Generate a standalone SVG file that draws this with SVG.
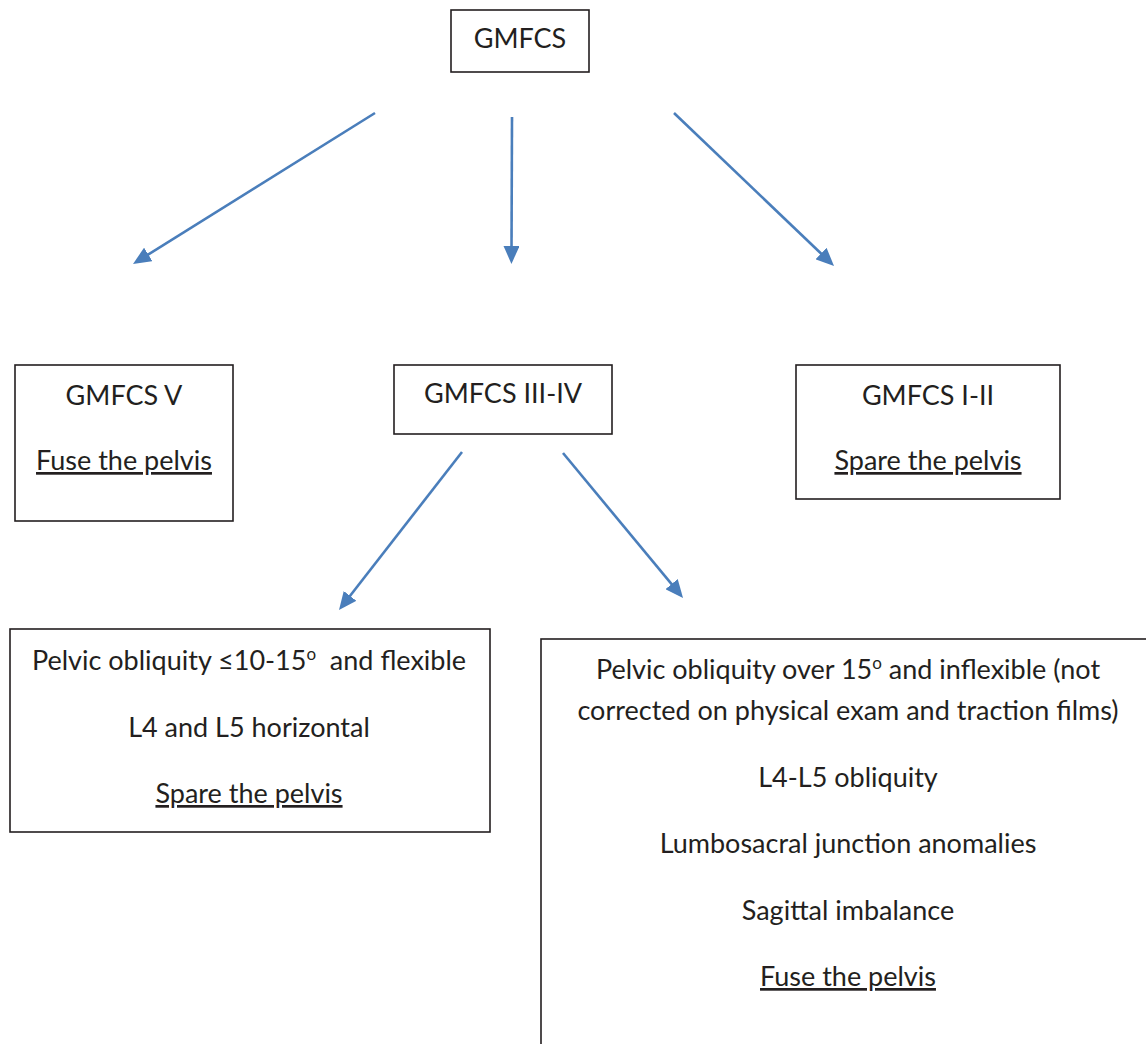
<svg xmlns="http://www.w3.org/2000/svg" width="1146" height="1044" viewBox="0 0 1146 1044">
<style>
.box{fill:#fff;stroke:#231f20;stroke-width:1.6}
.t{font-family:Lato,"Liberation Sans",sans-serif;font-size:27px;fill:#231f20;text-anchor:middle;white-space:pre}
.u{text-decoration:underline}
.c{fill:none;stroke:#4a7ebb;stroke-width:2.6}
</style>
<defs>
<marker id="ah" markerUnits="userSpaceOnUse" markerWidth="18" markerHeight="16" refX="4" refY="8" orient="auto">
<path d="M0,0 L18,8 L0,16 z" fill="#4a7ebb"/>
</marker>
</defs>
<rect width="1146" height="1044" fill="#fff"/>
<g id="connectors">
<line class="c" x1="375" y1="113" x2="144.9" y2="256.6" marker-end="url(#ah)"/>
<line class="c" x1="512" y1="117" x2="511.5" y2="250" marker-end="url(#ah)"/>
<line class="c" x1="674" y1="113" x2="823.9" y2="256.3" marker-end="url(#ah)"/>
<line class="c" x1="462" y1="452" x2="347.6" y2="599" marker-end="url(#ah)"/>
<line class="c" x1="563" y1="453" x2="674.1" y2="587.2" marker-end="url(#ah)"/>
</g>
<g id="gmfcs">
<rect class="box" x="451" y="10" width="138" height="62"/>
<text class="t" x="520" y="48">GMFCS</text>
</g>
<g id="gmfcs-v">
<rect class="box" x="15" y="365" width="218" height="156"/>
<text class="t" x="124" y="405">GMFCS V</text>
<text class="t u" x="124" y="470">Fuse the pelvis</text>
</g>
<g id="gmfcs-iii-iv">
<rect class="box" x="394" y="365" width="218" height="69"/>
<text class="t" x="503" y="403">GMFCS III-IV</text>
</g>
<g id="gmfcs-i-ii">
<rect class="box" x="796" y="365" width="264" height="134"/>
<text class="t" x="928" y="405">GMFCS I-II</text>
<text class="t u" x="928" y="470">Spare the pelvis</text>
</g>
<g id="spare-box">
<rect class="box" x="10" y="629" width="480" height="203"/>
<text class="t" x="249" y="670">Pelvic obliquity ≤10-15<tspan dy="-10" font-size="17">o</tspan><tspan dy="10">  and flexible</tspan></text>
<text class="t" x="249" y="737">L4 and L5 horizontal</text>
<text class="t u" x="249" y="803">Spare the pelvis</text>
</g>
<g id="fuse-box">
<rect class="box" x="541" y="639" width="620" height="420"/>
<text class="t" x="848" y="679">Pelvic obliquity over 15<tspan dy="-10" font-size="17">o</tspan><tspan dy="10"> and inflexible (not</tspan></text>
<text class="t" x="848" y="720">corrected on physical exam and traction films)</text>
<text class="t" x="848" y="787">L4-L5 obliquity</text>
<text class="t" x="848" y="853">Lumbosacral junction anomalies</text>
<text class="t" x="848" y="920">Sagittal imbalance</text>
<text class="t u" x="848" y="986">Fuse the pelvis</text>
</g>
</svg>
